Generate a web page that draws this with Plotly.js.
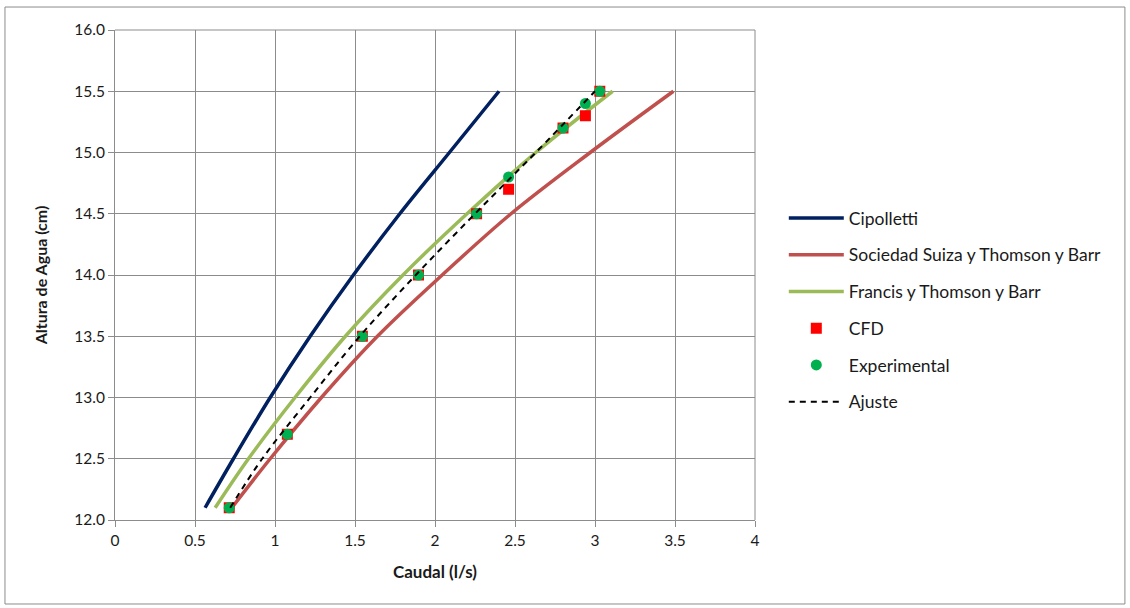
<!DOCTYPE html>
<html>
<head>
<meta charset="utf-8">
<script src="https://cdn.plot.ly/plotly-3.0.1.min.js"></script>
<style>html,body{margin:0;padding:0;background:#fff;}#chart{width:1130px;height:608px;}</style>
</head>
<body>
<div id="chart"></div>
<script>
// Heights (cm) for the theoretical curves
const curveHeights = [12.1, 12.5, 13.0, 13.5, 14.0, 14.5, 15.0, 15.5];
// Flow (l/s)
const cipollettiQ = [0.563, 0.74, 0.97, 1.22, 1.49, 1.78, 2.09, 2.40];
const suizaQ      = [0.73, 0.97, 1.29, 1.64, 2.045, 2.475, 2.97, 3.49];
const francisQ    = [0.626, 0.834, 1.125, 1.44, 1.80, 2.20, 2.63, 3.11];
// Fit (Ajuste)
const ajusteH = [12.1, 12.5, 13.0, 13.5, 14.0, 14.5, 15.0, 15.5];
const ajusteQ = [0.72, 0.92, 1.22, 1.53, 1.88, 2.25, 2.63, 3.00];
// CFD points
const cfdQ = [0.714, 1.077, 1.546, 1.897, 2.26, 2.46, 2.80, 2.94, 3.03];
const cfdH = [12.1, 12.7, 13.5, 14.0, 14.5, 14.7, 15.2, 15.3, 15.5];
// Experimental points
const expQ = [0.714, 1.077, 1.546, 1.897, 2.26, 2.46, 2.80, 2.94, 3.03];
const expH = [12.1, 12.7, 13.5, 14.0, 14.5, 14.8, 15.2, 15.4, 15.5];
// Axis ticks
const xTicks = [0, 0.5, 1, 1.5, 2, 2.5, 3, 3.5, 4];
const xTickText = ["0", "0.5", "1", "1.5", "2", "2.5", "3", "3.5", "4"];
const yTicks = [12.0, 12.5, 13.0, 13.5, 14.0, 14.5, 15.0, 15.5, 16.0];
const yTickText = ["12.0", "12.5", "13.0", "13.5", "14.0", "14.5", "15.0", "15.5", "16.0"];

const FONT = "Lato, 'Open Sans', sans-serif";

const traces = [
  {name: "Cipolletti", x: cipollettiQ, y: curveHeights, mode: "lines", line: {color: "#002060", width: 3.5, shape: "spline"}, legendgroup: "a"},
  {name: "Sociedad Suiza y Thomson y Barr", x: suizaQ, y: curveHeights, mode: "lines", line: {color: "#C0504D", width: 3.5, shape: "spline"}, legendgroup: "b"},
  {name: "Francis y Thomson y Barr", x: francisQ, y: curveHeights, mode: "lines", line: {color: "#9BBB59", width: 3.5, shape: "spline"}, legendgroup: "c"},
  {name: "CFD", x: cfdQ, y: cfdH, mode: "markers", marker: {symbol: "square", color: "#FF0000", size: 11}, legendgroup: "d"},
  {name: "Experimental", x: expQ, y: expH, mode: "markers", marker: {symbol: "circle", color: "#00B050", size: 11}, legendgroup: "e"},
  {name: "Ajuste", x: ajusteQ, y: ajusteH, mode: "lines", line: {color: "#000000", width: 2, dash: "6px,5px", shape: "spline"}, legendgroup: "f"}
];

const layout = {
  width: 1130, height: 608,
  margin: {l: 115, r: 375, t: 30, b: 88},
  paper_bgcolor: "#ffffff", plot_bgcolor: "#ffffff",
  font: {family: FONT, size: 14, color: "#1a1a1a"},
  showlegend: true,
  legend: {
    x: 1.045, y: 0.653, xanchor: "left", yanchor: "top",
    traceorder: "grouped", tracegroupgap: 11,
    font: {family: FONT, size: 17.5, color: "#1a1a1a"},
    itemwidth: 55, bgcolor: "rgba(0,0,0,0)"
  },
  xaxis: {
    range: [0, 4], tickvals: xTicks, ticktext: xTickText,
    showgrid: true, gridcolor: "#8c8c8c", gridwidth: 1,
    showline: true, linecolor: "#8c8c8c", linewidth: 1,
    ticks: "outside", ticklen: 6, tickcolor: "#8c8c8c",
    zeroline: false, tickfont: {size: 15.5, family: FONT, color: "#1a1a1a"},
    title: {text: "<b>Caudal (l/s)</b>", font: {size: 17, family: FONT, color: "#1a1a1a"}, standoff: 18}
  },
  yaxis: {
    range: [12, 16], tickvals: yTicks, ticktext: yTickText,
    showgrid: true, gridcolor: "#8c8c8c", gridwidth: 1,
    showline: true, linecolor: "#8c8c8c", linewidth: 1,
    ticks: "outside", ticklen: 6, tickcolor: "#8c8c8c",
    zeroline: false, tickfont: {size: 15.5, family: FONT, color: "#1a1a1a"},
    title: {text: "<b>Altura de Agua (cm)</b>", font: {size: 16, family: FONT, color: "#1a1a1a"}, standoff: 22}
  },
  shapes: [
    {type: "rect", xref: "paper", yref: "paper", x0: -0.1719, x1: 1.578, y0: -0.1714, y1: 1.0469,
     line: {color: "#8c8c8c", width: 1}, fillcolor: "rgba(0,0,0,0)", layer: "below"},
    {type: "line", xref: "paper", yref: "paper", x0: 1, x1: 1, y0: 0, y1: 1, line: {color: "#8c8c8c", width: 1}},
    {type: "line", xref: "paper", yref: "paper", x0: 0, x1: 1, y0: 1, y1: 1, line: {color: "#8c8c8c", width: 1}}
  ]
};

Plotly.newPlot("chart", traces, layout, {displayModeBar: false, staticPlot: true});
</script>
</body>
</html>
